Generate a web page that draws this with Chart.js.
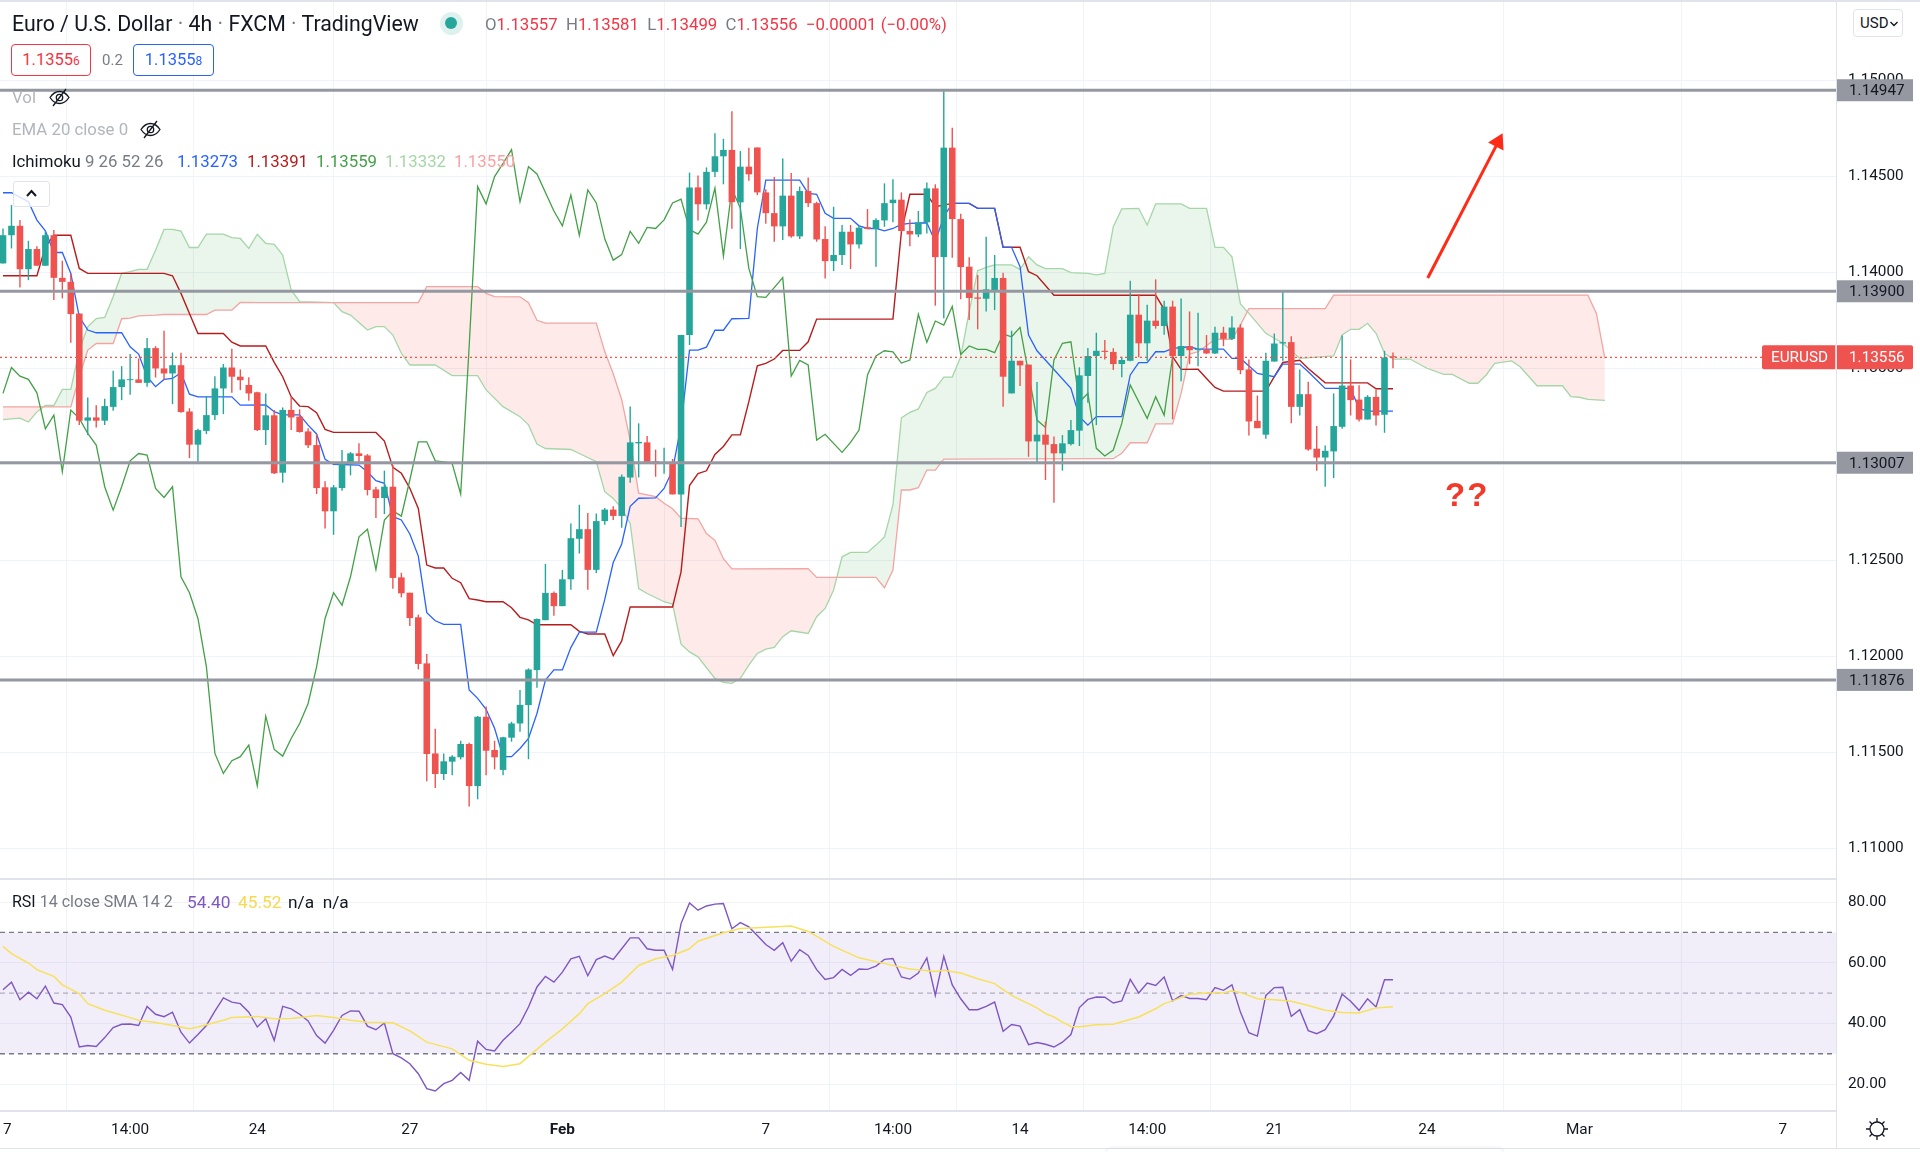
<!DOCTYPE html>
<html>
<head>
<meta charset="utf-8">
<title>EURUSD 4h</title>
<script src="https://cdn.jsdelivr.net/npm/chart.js@4"></script>
<style>
  html, body { margin: 0; padding: 0; background: #fff; }
  #wrap { position: relative; width: 1920px; height: 1152px; overflow: hidden; font-family: Roboto, sans-serif; color: #131722; }
  #wrap canvas { position: absolute; left: 0; top: 0; }
  .t { position: absolute; white-space: nowrap; line-height: 20px; font-size: 16.8px; }
  .rule { position: absolute; background: #E0E3EB; }
  .box { position: absolute; box-sizing: border-box; border-radius: 4px; background: #fff; font-size: 16.5px; text-align: center; line-height: 29px; }
  .box small { font-size: 12px; }
  svg { position: absolute; }
</style>
</head>
<body>
<div id="wrap">
  <canvas id="chart" width="1920" height="1152"></canvas>

  <div class="rule" style="left:0;top:0;width:1920px;height:2px"></div>
  <div class="rule" style="left:1836px;top:0;width:1px;height:1148px"></div>
  <div class="rule" style="left:0;top:878px;width:1836px;height:2px"></div>
  <div class="rule" style="left:0;top:1110px;width:1836px;height:2px"></div>
  <div class="rule" style="left:0;top:1148px;width:1920px;height:1px"></div>
  <div style="position:absolute;left:1107px;top:1149px;width:395px;height:6px;background:#fff;border-radius:5px;box-shadow:0 0 4px #d5d8e0"></div>

  <div class="t" style="left:12px;top:13px;font-size:21.3px;line-height:22px">Euro / U.S. Dollar <span style="color:#787B86">·</span> 4h <span style="color:#787B86">·</span> FXCM <span style="color:#787B86">·</span> TradingView</div>
  <div style="position:absolute;left:440px;top:12px;width:23px;height:23px;border-radius:50%;background:#DFF1EE"></div>
  <div style="position:absolute;left:445px;top:17px;width:12px;height:12px;border-radius:50%;background:#26A69A"></div>
  <div class="t" style="left:485px;top:14px;color:#F23645">
    <span style="color:#787B86">O</span>1.13557 <span style="color:#787B86">&nbsp;H</span>1.13581 <span style="color:#787B86">&nbsp;L</span>1.13499 <span style="color:#787B86">&nbsp;C</span>1.13556 &nbsp;−0.00001 (−0.00%)
  </div>

  <div class="box" style="left:11px;top:44px;width:80px;height:32px;border:1.5px solid #F23645;color:#F23645">1.1355<small>6</small></div>
  <div class="t" style="left:102px;top:50px;color:#787B86;font-size:15px">0.2</div>
  <div class="box" style="left:133px;top:44px;width:81px;height:32px;border:1.5px solid #2962FF;color:#2962FF">1.1355<small>8</small></div>

  <div class="t" style="left:12px;top:87px;color:#B2B5BE">Vol</div>
  <svg style="left:48px;top:86px" width="23" height="23" viewBox="0 0 23 23" fill="none" stroke="#131722" stroke-width="1.3"><path d="M2 11.5C5 7 8 5.5 11.5 5.5S18 7 21 11.5C18 16 15 17.5 11.5 17.5S5 16 2 11.5Z"/><circle cx="11.5" cy="11.5" r="3.2"/><path d="M5 20L18 3"/></svg>
  <div class="t" style="left:12px;top:119px;color:#B2B5BE">EMA 20 close 0</div>
  <svg style="left:139px;top:118px" width="23" height="23" viewBox="0 0 23 23" fill="none" stroke="#131722" stroke-width="1.3"><path d="M2 11.5C5 7 8 5.5 11.5 5.5S18 7 21 11.5C18 16 15 17.5 11.5 17.5S5 16 2 11.5Z"/><circle cx="11.5" cy="11.5" r="3.2"/><path d="M5 20L18 3"/></svg>
  <div class="t" style="left:12px;top:151px">Ichimoku <span style="color:#787B86">9 26 52 26</span></div>
  <div class="t" style="left:177px;top:151px;color:#2962FF">1.13273</div>
  <div class="t" style="left:247px;top:151px;color:#B71C1C">1.13391</div>
  <div class="t" style="left:316px;top:151px;color:#43A047">1.13559</div>
  <div class="t" style="left:385px;top:151px;color:#A5D6A7">1.13332</div>
  <div class="t" style="left:454px;top:151px;color:#FAA1A4">1.13550</div>
  <div style="position:absolute;left:13px;top:181px;width:37px;height:26px;box-sizing:border-box;border:1px solid #E0E3EB;border-radius:3px;background:rgba(255,255,255,.8)"></div>
  <svg style="left:24px;top:188px" width="15" height="11" viewBox="0 0 15 11" fill="none" stroke="#131722" stroke-width="2"><path d="M3 8L7.5 3L12 8"/></svg>

  <div class="t" style="left:1445px;top:477px;font-size:33px;line-height:36px;font-weight:bold;color:#F23A2B;font-family:'Liberation Sans',sans-serif;letter-spacing:2px">??</div>

  <div class="t" style="left:12px;top:892px;font-size:16px">RSI <span style="color:#787B86">14 close SMA 14 2</span></div>
  <div class="t" style="left:187px;top:892px;color:#7E57C2;font-size:17.3px">54.40</div>
  <div class="t" style="left:238px;top:892px;color:#F7D94C;font-size:17.3px">45.52</div>
  <div class="t" style="left:288px;top:892px;font-size:17.3px">n/a &nbsp;n/a</div>

  <div class="box" style="left:1853px;top:9px;width:50px;height:28px;border:1px solid #E0E3EB;line-height:26px;font-size:15px;text-align:left;padding-left:6px">USD</div>
  <svg style="left:1889px;top:20px" width="10" height="8" viewBox="0 0 10 8" fill="none" stroke="#131722" stroke-width="1.4"><path d="M1.5 2L5 5.5L8.5 2"/></svg>
  <svg style="left:1865px;top:1117px" width="24" height="24" viewBox="0 0 24 24" fill="none" stroke="#131722" stroke-width="1.3"><circle cx="12" cy="12" r="7"/><path d="M12 1V5M12 19V23M1 12H5M19 12H23M4.5 4.5L7 7M17 17L19.5 19.5M4.5 19.5L7 17M17 7L19.5 4.5"/></svg>
</div>

<script>
// time axis: bar index of each label
const timeTicks = [0, 15, 30, 48, 66, 90, 105, 120, 135, 150, 168, 186, 210];
const timeLabels = ['17', '14:00', '24', '27', 'Feb', '7', '14:00', '14', '14:00', '21', '24', 'Mar', '7'];
const priceTicks = [1.11, 1.115, 1.12, 1.125, 1.13, 1.135, 1.14, 1.145, 1.15];
const rsiTicks = [20, 40, 60, 80];

const opens = [
  1.14045, 1.14192, 1.14241, 1.14015, 1.14120, 1.14033, 1.14192, 1.13970, 1.13949, 1.13784,
  1.13226, 1.13243, 1.13226, 1.13298, 1.13401, 1.13437, 1.13441, 1.13423, 1.13604, 1.13498,
  1.13472, 1.13515, 1.13274, 1.13101, 1.13173, 1.13255, 1.13394, 1.13503, 1.13455, 1.13412,
  1.13374, 1.13177, 1.13254, 1.12955, 1.13282, 1.13247, 1.13170, 1.13099, 1.12879, 1.12754,
  1.12875, 1.13002, 1.13056, 1.13045, 1.12868, 1.12823, 1.12882, 1.12410, 1.12330, 1.12202,
  1.11962, 1.11493, 1.11386, 1.11450, 1.11473, 1.11542, 1.11323, 1.11684, 1.11511, 1.11407,
  1.11575, 1.11649, 1.11745, 1.11927, 1.12187, 1.12329, 1.12260, 1.12400, 1.12611, 1.12661,
  1.12449, 1.12703, 1.12763, 1.12730, 1.12930, 1.13108, 1.13113, 1.13015, 1.13004, 1.13008,
  1.12842, 1.13672, 1.14441, 1.14353, 1.14522, 1.14603, 1.14636, 1.14363, 1.14549, 1.14649,
  1.14415, 1.14307, 1.14238, 1.14398, 1.14186, 1.14422, 1.14359, 1.14172, 1.14057, 1.14089,
  1.14210, 1.14144, 1.14234, 1.14224, 1.14269, 1.14359, 1.14377, 1.14214, 1.14196, 1.14259,
  1.14436, 1.14078, 1.14648, 1.14276, 1.14028, 1.13868, 1.13861, 1.13906, 1.13969, 1.13368,
  1.13538, 1.13518, 1.13118, 1.13153, 1.13104, 1.13056, 1.13104, 1.13174, 1.13459, 1.13563,
  1.13590, 1.13584, 1.13521, 1.13538, 1.13778, 1.13629, 1.13747, 1.13719, 1.13820, 1.13563,
  1.13614, 1.13595, 1.13597, 1.13576, 1.13684, 1.13652, 1.13711, 1.13493, 1.13225, 1.13153,
  1.13534, 1.13628, 1.13635, 1.13298, 1.13364, 1.13080, 1.13034, 1.13066, 1.13194, 1.13409,
  1.13336, 1.13232, 1.13350, 1.13257, 1.13557
];
const closes = [
  1.14192, 1.14241, 1.14015, 1.14120, 1.14033, 1.14192, 1.13970, 1.13949, 1.13781, 1.13226,
  1.13243, 1.13226, 1.13302, 1.13401, 1.13441, 1.13441, 1.13423, 1.13604, 1.13498, 1.13472,
  1.13515, 1.13271, 1.13101, 1.13177, 1.13255, 1.13394, 1.13503, 1.13455, 1.13437, 1.13368,
  1.13177, 1.13254, 1.12952, 1.13282, 1.13243, 1.13167, 1.13098, 1.12875, 1.12754, 1.12879,
  1.13002, 1.13056, 1.13042, 1.12865, 1.12823, 1.12882, 1.12407, 1.12327, 1.12198, 1.11959,
  1.11490, 1.11386, 1.11452, 1.11476, 1.11542, 1.11323, 1.11684, 1.11507, 1.11473, 1.11577,
  1.11649, 1.11746, 1.11930, 1.12193, 1.12329, 1.12260, 1.12400, 1.12614, 1.12661, 1.12449,
  1.12703, 1.12763, 1.12730, 1.12934, 1.13113, 1.13115, 1.13011, 1.13000, 1.13008, 1.12842,
  1.13672, 1.14441, 1.14353, 1.14522, 1.14603, 1.14636, 1.14364, 1.14549, 1.14509, 1.14415,
  1.14307, 1.14238, 1.14398, 1.14186, 1.14422, 1.14359, 1.14170, 1.14057, 1.14089, 1.14210,
  1.14144, 1.14231, 1.14224, 1.14271, 1.14359, 1.14377, 1.14214, 1.14196, 1.14259, 1.14436,
  1.14078, 1.14648, 1.14276, 1.14026, 1.13865, 1.13861, 1.13910, 1.13969, 1.13455, 1.13538,
  1.13514, 1.13118, 1.13153, 1.13101, 1.13056, 1.13108, 1.13177, 1.13462, 1.13563, 1.13590,
  1.13584, 1.13521, 1.13542, 1.13778, 1.13629, 1.13747, 1.13719, 1.13820, 1.13563, 1.13615,
  1.13593, 1.13599, 1.13576, 1.13684, 1.13652, 1.13711, 1.13489, 1.13222, 1.13187, 1.13538,
  1.13628, 1.13635, 1.13298, 1.13364, 1.13076, 1.13034, 1.13069, 1.13198, 1.13409, 1.13333,
  1.13232, 1.13350, 1.13253, 1.13555, 1.13556
];
const highs = [
  1.14227, 1.14349, 1.14271, 1.14163, 1.14135, 1.14213, 1.14219, 1.14059, 1.13993, 1.13784,
  1.13347, 1.13307, 1.13340, 1.13486, 1.13510, 1.13573, 1.13550, 1.13656, 1.13614, 1.13694,
  1.13581, 1.13580, 1.13291, 1.13184, 1.13354, 1.13458, 1.13521, 1.13600, 1.13493, 1.13452,
  1.13377, 1.13368, 1.13282, 1.13295, 1.13351, 1.13285, 1.13186, 1.13157, 1.12910, 1.12891,
  1.13073, 1.13063, 1.13108, 1.13052, 1.12882, 1.12966, 1.12995, 1.12434, 1.12330, 1.12216,
  1.12011, 1.11622, 1.11493, 1.11483, 1.11559, 1.11549, 1.11688, 1.11737, 1.11559, 1.11580,
  1.11658, 1.11823, 1.11936, 1.12196, 1.12480, 1.12337, 1.12449, 1.12691, 1.12788, 1.12745,
  1.12742, 1.12771, 1.12780, 1.12946, 1.13300, 1.13212, 1.13146, 1.13075, 1.13085, 1.13027,
  1.13672, 1.14518, 1.14503, 1.14545, 1.14723, 1.14694, 1.14838, 1.14630, 1.14648, 1.14649,
  1.14432, 1.14495, 1.14592, 1.14516, 1.14445, 1.14493, 1.14366, 1.14238, 1.14340, 1.14245,
  1.14245, 1.14241, 1.14328, 1.14280, 1.14462, 1.14483, 1.14415, 1.14274, 1.14318, 1.14467,
  1.14457, 1.14953, 1.14752, 1.14304, 1.14077, 1.13985, 1.14184, 1.14089, 1.13997, 1.13695,
  1.13538, 1.13518, 1.13427, 1.13221, 1.13143, 1.13151, 1.13229, 1.13504, 1.13604, 1.13684,
  1.13646, 1.13603, 1.13559, 1.13955, 1.13886, 1.13830, 1.13962, 1.13851, 1.13851, 1.13863,
  1.13795, 1.13788, 1.13672, 1.13715, 1.13715, 1.13770, 1.13729, 1.13545, 1.13357, 1.13580,
  1.13680, 1.13906, 1.13666, 1.13493, 1.13429, 1.13198, 1.13097, 1.13368, 1.13670, 1.13545,
  1.13411, 1.13359, 1.13389, 1.13590, 1.13581
];
const lows = [
  1.14045, 1.14123, 1.13920, 1.13958, 1.14033, 1.14033, 1.13854, 1.13863, 1.13632, 1.13203,
  1.13151, 1.13191, 1.13203, 1.13278, 1.13333, 1.13361, 1.13423, 1.13403, 1.13451, 1.13441,
  1.13312, 1.13267, 1.13031, 1.13012, 1.13156, 1.13229, 1.13260, 1.13371, 1.13385, 1.13330,
  1.13172, 1.13099, 1.12948, 1.12903, 1.13177, 1.13164, 1.13084, 1.12844, 1.12664, 1.12632,
  1.12861, 1.12941, 1.13004, 1.12837, 1.12719, 1.12740, 1.12351, 1.12306, 1.12157, 1.11931,
  1.11348, 1.11313, 1.11355, 1.11379, 1.11462, 1.11216, 1.11254, 1.11379, 1.11410, 1.11379,
  1.11554, 1.11606, 1.11463, 1.11835, 1.12187, 1.12210, 1.12260, 1.12345, 1.12534, 1.12345,
  1.12433, 1.12684, 1.12709, 1.12668, 1.12903, 1.12930, 1.13011, 1.12934, 1.12950, 1.12842,
  1.12672, 1.13620, 1.14268, 1.14326, 1.14495, 1.14457, 1.14225, 1.14120, 1.14476, 1.14401,
  1.14252, 1.14158, 1.14167, 1.14179, 1.14172, 1.14339, 1.14158, 1.13967, 1.14005, 1.14037,
  1.14016, 1.14123, 1.14224, 1.14028, 1.14236, 1.14259, 1.14210, 1.14134, 1.14182, 1.14201,
  1.13825, 1.13759, 1.14075, 1.13859, 1.13750, 1.13702, 1.13794, 1.13802, 1.13299, 1.13368,
  1.13406, 1.13038, 1.13007, 1.12917, 1.12799, 1.12966, 1.13097, 1.13094, 1.13320, 1.13203,
  1.13545, 1.13490, 1.13452, 1.13535, 1.13556, 1.13538, 1.13705, 1.13674, 1.13233, 1.13431,
  1.13520, 1.13510, 1.13573, 1.13573, 1.13614, 1.13646, 1.13468, 1.13149, 1.13187, 1.13132,
  1.13534, 1.13538, 1.13212, 1.13253, 1.13069, 1.12965, 1.12882, 1.12927, 1.13184, 1.13253,
  1.13222, 1.13232, 1.13201, 1.13163, 1.13499
];

// ichimoku lines, read at their corners
const tenkanX = [0, 1, 3, 4, 5, 6, 7, 8, 9, 10, 11, 14, 15, 16, 17, 18, 19, 20, 21, 22, 23, 27, 28, 31, 32, 33, 35, 36, 37, 38, 39, 42, 43, 44, 45, 46, 47, 48, 49, 50, 51, 52, 54, 55, 56, 57, 58, 59, 60, 61, 62, 63, 64, 65, 66, 67, 68, 70, 71, 72, 73, 74, 75, 77, 78, 79, 80, 81, 82, 83, 84, 85, 86, 88, 89, 90, 94, 95, 96, 97, 98, 100, 101, 102, 103, 104, 105, 106, 107, 109, 110, 111, 112, 114, 115, 117, 118, 119, 120, 121, 122, 126, 127, 128, 129, 132, 133, 134, 135, 136, 137, 138, 140, 141, 144, 145, 146, 148, 150, 151, 153, 154, 156, 159, 160, 161, 164];
const tenkanY = [1.14413, 1.14413, 1.14366, 1.14271, 1.14215, 1.14102, 1.14102, 1.13993, 1.13767, 1.13698, 1.13684, 1.13684, 1.13611, 1.13573, 1.13455, 1.13403, 1.13441, 1.13446, 1.13476, 1.13364, 1.13350, 1.13350, 1.13307, 1.13308, 1.13273, 1.13256, 1.13256, 1.13203, 1.13157, 1.13025, 1.12999, 1.12995, 1.12960, 1.12914, 1.12900, 1.12726, 1.12709, 1.12636, 1.12521, 1.12226, 1.12184, 1.12165, 1.12165, 1.11823, 1.11780, 1.11723, 1.11624, 1.11476, 1.11476, 1.11519, 1.11571, 1.11701, 1.11875, 1.11928, 1.11928, 1.12044, 1.12125, 1.12125, 1.12295, 1.12487, 1.12584, 1.12780, 1.12822, 1.12824, 1.12873, 1.12969, 1.13200, 1.13593, 1.13593, 1.13609, 1.13697, 1.13697, 1.13757, 1.13759, 1.14227, 1.14479, 1.14479, 1.14410, 1.14405, 1.14306, 1.14280, 1.14280, 1.14241, 1.14227, 1.14227, 1.14215, 1.14227, 1.14248, 1.14254, 1.14257, 1.14158, 1.14288, 1.14358, 1.14358, 1.14332, 1.14332, 1.14129, 1.14129, 1.14028, 1.13672, 1.13590, 1.13394, 1.13247, 1.13203, 1.13247, 1.13247, 1.13464, 1.13528, 1.13528, 1.13585, 1.13585, 1.13603, 1.13611, 1.13599, 1.13599, 1.13550, 1.13550, 1.13472, 1.13455, 1.13521, 1.13521, 1.13481, 1.13394, 1.13394, 1.13290, 1.13276, 1.13276];

const kijunX = [0, 4, 5, 6, 8, 9, 10, 19, 20, 21, 22, 23, 26, 27, 28, 31, 32, 33, 34, 35, 36, 37, 38, 39, 44, 45, 46, 47, 48, 49, 50, 51, 52, 53, 54, 55, 56, 57, 59, 60, 61, 62, 63, 67, 68, 69, 71, 72, 73, 74, 79, 80, 81, 82, 83, 84, 85, 86, 87, 88, 89, 90, 91, 92, 94, 95, 96, 105, 106, 107, 109, 110, 111, 112, 114, 115, 117, 118, 120, 121, 122, 124, 136, 137, 138, 139, 141, 142, 143, 144, 149, 150, 151, 153, 154, 156, 161, 162, 164];
const kijunY = [1.13981, 1.13981, 1.14132, 1.14192, 1.14192, 1.14019, 1.13993, 1.13993, 1.13981, 1.13889, 1.13784, 1.13680, 1.13680, 1.13635, 1.13615, 1.13615, 1.13530, 1.13455, 1.13351, 1.13302, 1.13299, 1.13268, 1.13181, 1.13165, 1.13165, 1.13120, 1.12983, 1.12952, 1.12874, 1.12769, 1.12474, 1.12459, 1.12459, 1.12405, 1.12382, 1.12299, 1.12292, 1.12283, 1.12283, 1.12252, 1.12202, 1.12189, 1.12163, 1.12163, 1.12129, 1.12115, 1.12115, 1.12002, 1.12079, 1.12256, 1.12256, 1.12439, 1.12888, 1.12950, 1.12965, 1.13050, 1.13092, 1.13152, 1.13152, 1.13325, 1.13512, 1.13524, 1.13547, 1.13592, 1.13592, 1.13637, 1.13755, 1.13755, 1.14210, 1.14405, 1.14405, 1.14340, 1.14349, 1.14358, 1.14358, 1.14332, 1.14332, 1.14129, 1.14129, 1.14002, 1.13981, 1.13879, 1.13879, 1.13806, 1.13559, 1.13493, 1.13494, 1.13446, 1.13399, 1.13380, 1.13380, 1.13455, 1.13529, 1.13541, 1.13498, 1.13423, 1.13423, 1.13392, 1.13392];

const chikou = [
  1.13368, 1.13503, 1.13458, 1.13441, 1.13371, 1.13184, 1.13255, 1.12960, 1.13281, 1.13238,
  1.13160, 1.13099, 1.12882, 1.12760, 1.12882, 1.13017, 1.13055, 1.13047, 1.12873, 1.12826,
  1.12882, 1.12413, 1.12330, 1.12196, 1.11944, 1.11493, 1.11389, 1.11455, 1.11476, 1.11536,
  1.11325, 1.11687, 1.11514, 1.11479, 1.11571, 1.11649, 1.11753, 1.11944, 1.12196, 1.12330,
  1.12265, 1.12413, 1.12621, 1.12661, 1.12451, 1.12708, 1.12757, 1.12729, 1.12917, 1.13116,
  1.13116, 1.13017, 1.13012, 1.13003, 1.12844, 1.13612, 1.14445, 1.14355, 1.14497, 1.14566,
  1.14638, 1.14366, 1.14549, 1.14511, 1.14414, 1.14318, 1.14241, 1.14401, 1.14191, 1.14428,
  1.14360, 1.14173, 1.14062, 1.14091, 1.14212, 1.14150, 1.14233, 1.14227, 1.14272, 1.14360,
  1.14380, 1.14222, 1.14198, 1.14260, 1.14437, 1.14083, 1.14434, 1.14332, 1.14019, 1.13872,
  1.13868, 1.13919, 1.13971, 1.13458, 1.13540, 1.13516, 1.13125, 1.13155, 1.13108, 1.13061,
  1.13113, 1.13177, 1.13464, 1.13563, 1.13590, 1.13585, 1.13526, 1.13542, 1.13780, 1.13634,
  1.13745, 1.13724, 1.13821, 1.13571, 1.13615, 1.13597, 1.13597, 1.13580, 1.13677, 1.13663,
  1.13712, 1.13472, 1.13229, 1.13191, 1.13542, 1.13629, 1.13637, 1.13323, 1.13368, 1.13082,
  1.13042, 1.13073, 1.13212, 1.13412, 1.13325, 1.13238, 1.13351, 1.13255, 1.13559
];

const spanAX = [0, 2, 3, 4, 5, 6, 7, 8, 9, 10, 11, 12, 13, 14, 15, 16, 17, 18, 19, 20, 21, 22, 23, 24, 26, 27, 28, 29, 30, 31, 32, 33, 34, 35, 39, 40, 41, 42, 43, 44, 45, 46, 47, 48, 51, 53, 56, 57, 59, 61, 62, 63, 64, 67, 68, 70, 71, 72, 73, 74, 75, 76, 78, 79, 80, 81, 82, 84, 85, 86, 87, 88, 89, 90, 91, 92, 93, 95, 96, 97, 98, 99, 100, 102, 103, 104, 105, 106, 107, 108, 109, 110, 111, 112, 113, 114, 115, 116, 117, 119, 120, 121, 122, 123, 125, 126, 128, 129, 130, 131, 132, 134, 135, 136, 139, 140, 142, 143, 144, 145, 146, 147, 149, 151, 153, 157, 158, 159, 160, 161, 162, 163, 164, 166, 168, 170, 171, 173, 174, 175, 176, 178, 179, 181, 184, 185, 186, 187, 189];
const spanAY = [1.13232, 1.13239, 1.13219, 1.13272, 1.13305, 1.13305, 1.13389, 1.13389, 1.13594, 1.13715, 1.13758, 1.13764, 1.13871, 1.13993, 1.14002, 1.14014, 1.14014, 1.14114, 1.14222, 1.14222, 1.14213, 1.14128, 1.14128, 1.14198, 1.14198, 1.14179, 1.14175, 1.14123, 1.14197, 1.14150, 1.14144, 1.14089, 1.13907, 1.13846, 1.13841, 1.13794, 1.13776, 1.13737, 1.13698, 1.13716, 1.13716, 1.13672, 1.13577, 1.13516, 1.13516, 1.13461, 1.13461, 1.13386, 1.13299, 1.13247, 1.13204, 1.13104, 1.13081, 1.13076, 1.13055, 1.13012, 1.12856, 1.12821, 1.12769, 1.12691, 1.12352, 1.12326, 1.12283, 1.12271, 1.12062, 1.12022, 1.11996, 1.11884, 1.11863, 1.11858, 1.11884, 1.11953, 1.12014, 1.12036, 1.12045, 1.12101, 1.12132, 1.12118, 1.12205, 1.12248, 1.12344, 1.12517, 1.12540, 1.12540, 1.12578, 1.12621, 1.12787, 1.13241, 1.13269, 1.13287, 1.13373, 1.13394, 1.13453, 1.13453, 1.13559, 1.13794, 1.14007, 1.14024, 1.14037, 1.14037, 1.14014, 1.14080, 1.14037, 1.14018, 1.14018, 1.13997, 1.13993, 1.13985, 1.13993, 1.14236, 1.14329, 1.14332, 1.14245, 1.14355, 1.14355, 1.14332, 1.14332, 1.14129, 1.14129, 1.14080, 1.13834, 1.13785, 1.13681, 1.13629, 1.13551, 1.13563, 1.13672, 1.13702, 1.13702, 1.13733, 1.13681, 1.13577, 1.13547, 1.13547, 1.13499, 1.13467, 1.13467, 1.13421, 1.13421, 1.13464, 1.13525, 1.13537, 1.13507, 1.13408, 1.13408, 1.13351, 1.13348, 1.13337, 1.13332];

const spanBX = [0, 8, 9, 10, 11, 13, 14, 15, 16, 18, 19, 24, 25, 27, 28, 30, 49, 50, 56, 57, 58, 61, 62, 63, 64, 70, 71, 72, 73, 74, 75, 77, 78, 79, 80, 82, 83, 84, 85, 86, 95, 96, 103, 104, 105, 106, 107, 108, 109, 110, 111, 131, 132, 133, 135, 136, 138, 139, 140, 141, 143, 145, 146, 147, 156, 157, 187, 188, 189];
const spanBY = [1.13298, 1.13298, 1.13455, 1.13594, 1.13628, 1.13628, 1.13757, 1.13760, 1.13772, 1.13776, 1.13779, 1.13779, 1.13802, 1.13802, 1.13842, 1.13841, 1.13841, 1.13924, 1.13924, 1.13889, 1.13872, 1.13871, 1.13840, 1.13749, 1.13734, 1.13734, 1.13586, 1.13470, 1.13335, 1.13123, 1.12848, 1.12830, 1.12796, 1.12767, 1.12718, 1.12715, 1.12638, 1.12603, 1.12507, 1.12454, 1.12456, 1.12410, 1.12410, 1.12356, 1.12448, 1.12865, 1.12865, 1.12877, 1.12969, 1.12969, 1.13026, 1.13028, 1.13056, 1.13111, 1.13111, 1.13209, 1.13209, 1.13368, 1.13573, 1.13585, 1.13649, 1.13649, 1.13724, 1.13810, 1.13810, 1.13880, 1.13880, 1.13785, 1.13550];

// support / resistance drawn on the chart
const levels = [1.14947, 1.139, 1.13007, 1.11876];
const lastPrice = 1.13556;
const arrowX = [168.1, 176.4];
const arrowY = [1.13969, 1.14677];

const rsi = [
  51.1, 53.6, 47.8, 50.3, 48.1, 52.3, 46.7, 46.2, 42.1, 32.2,
  32.7, 32.4, 35.3, 38.6, 39.7, 39.8, 39.3, 45.6, 43.0, 42.2,
  43.7, 37.1, 33.5, 36.3, 39.3, 44.0, 48.4, 47.0, 46.5, 43.7,
  38.8, 41.5, 34.4, 45.6, 44.8, 43.0, 40.8, 36.0, 33.5, 37.7,
  42.6, 44.1, 44.0, 39.1, 37.9, 40.1, 30.0, 28.6, 26.7, 23.4,
  18.5, 17.7, 20.1, 21.2, 23.8, 21.2, 34.1, 31.4, 30.9, 34.4,
  37.1, 39.9, 45.4, 52.0, 55.5, 53.6, 56.9, 61.3, 62.1, 55.7,
  61.0, 62.2, 61.1, 64.6, 68.2, 68.2, 64.6, 64.1, 64.1, 57.8,
  72.9, 79.7, 77.3, 78.7, 79.3, 79.5, 71.2, 73.2, 71.8, 69.0,
  66.0, 64.1, 66.6, 60.5, 64.3, 62.4, 57.7, 54.5, 55.1, 57.8,
  55.8, 57.9, 57.8, 58.9, 61.1, 61.4, 55.3, 54.6, 56.6, 61.6,
  49.2, 62.1, 52.7, 48.1, 44.5, 44.5, 45.6, 47.0, 37.4, 39.6,
  39.1, 33.0, 33.7, 33.1, 32.2, 33.8, 36.3, 45.2, 47.9, 48.7,
  48.6, 46.7, 47.4, 54.5, 50.0, 53.3, 52.5, 55.3, 47.4, 49.2,
  48.2, 48.2, 47.8, 51.8, 50.9, 52.7, 43.7, 36.9, 35.8, 49.2,
  51.8, 51.9, 42.3, 44.5, 37.6, 36.6, 37.9, 42.4, 49.6, 47.3,
  44.3, 48.1, 45.4, 54.4, 54.4
];
const rsiSmaX = [0, 1, 3, 4, 6, 7, 9, 10, 12, 15, 16, 18, 20, 22, 23, 26, 27, 30, 32, 34, 37, 39, 41, 43, 46, 48, 50, 53, 55, 57, 59, 61, 62, 64, 66, 68, 69, 71, 73, 75, 77, 79, 81, 82, 85, 87, 89, 93, 95, 98, 101, 104, 107, 110, 111, 113, 115, 117, 118, 119, 120, 122, 123, 124, 125, 126, 127, 129, 131, 134, 136, 137, 138, 140, 142, 144, 145, 146, 148, 150, 152, 154, 156, 158, 160, 162, 164];
const rsiSmaY = [65.4, 63.0, 59.9, 57.7, 55.5, 52.7, 49.8, 46.5, 44.3, 41.9, 41.0, 40.3, 39.3, 38.2, 38.8, 41.0, 41.9, 42.3, 41.5, 41.6, 42.6, 41.9, 41.0, 40.4, 40.2, 37.5, 33.8, 31.6, 27.8, 26.5, 25.8, 26.7, 29.1, 33.8, 38.2, 43.2, 46.5, 49.8, 53.6, 59.1, 61.3, 62.4, 64.6, 67.1, 69.9, 71.3, 71.5, 72.1, 70.3, 65.4, 61.6, 59.7, 57.9, 57.1, 57.5, 56.6, 54.7, 53.1, 51.1, 49.2, 47.8, 45.1, 43.2, 42.1, 40.4, 39.0, 38.9, 39.5, 39.7, 42.1, 44.8, 46.5, 47.4, 49.6, 50.0, 50.1, 50.7, 50.2, 48.1, 47.8, 47.3, 45.9, 44.3, 43.6, 43.4, 45.1, 45.5];
const rsiBand = [70, 30];
const rsiMid = 50;

const xMin = -0.354;
const xMax = 216.27;
const GREEN = '#26A69A';
const RED = '#EF5350';
const TICK_FONT = { family: 'Roboto, sans-serif', size: 15.3 };

const pts = (xs, ys) => xs.map((x, i) => ({ x: x, y: ys[i] }));
const hline = (v) => [{ x: xMin, y: v }, { x: xMax, y: v }];
const candleColors = closes.map((c, i) => (c >= opens[i] ? GREEN : RED));

function thinLine(data, color, width, order, extra) {
    return Object.assign({
        type: 'line',
        data: data,
        borderColor: color,
        borderWidth: width,
        pointRadius: 0,
        tension: 0,
        fill: false,
        order: order,
        yAxisID: 'y'
    }, extra || {});
}

const datasets = [
    // cloud is index 0 and 1, the fill targets the second one
    thinLine(pts(spanAX, spanAY), '#A5D6A7', 1.3, 9, {
        fill: { target: 1, above: 'rgba(67, 160, 71, 0.11)', below: 'rgba(244, 67, 54, 0.11)' }
    }),
    thinLine(pts(spanBX, spanBY), '#F2A5A2', 1.3, 8),
    thinLine(pts(tenkanX, tenkanY), '#2962FF', 1.3, 5),
    thinLine(pts(kijunX, kijunY), '#B71C1C', 1.4, 5),
    thinLine(chikou.map((v, i) => ({ x: i, y: v })), '#43A047', 1.3, 4),
    {
        type: 'bar',
        data: lows.map((v, i) => ({ x: i, y: [v, highs[i]] })),
        backgroundColor: candleColors,
        barPercentage: 1,
        maxBarThickness: 1.4,
        grouped: false,
        order: 3,
        yAxisID: 'y'
    },
    {
        type: 'bar',
        data: opens.map((v, i) => ({ x: i, y: [v, closes[i]] })),
        backgroundColor: candleColors,
        barPercentage: 1,
        maxBarThickness: 6.6,
        minBarLength: 1,
        grouped: false,
        order: 2,
        yAxisID: 'y'
    },
    thinLine(hline(lastPrice), RED, 1.2, 1, { borderDash: [2, 3] })
];

levels.forEach(v => datasets.push(thinLine(hline(v), '#9598A1', 3, 0)));

datasets.push(thinLine(pts(arrowX, arrowY), '#FF2B17', 3, 0, {
    pointRadius: [0, 10],
    pointStyle: 'triangle',
    pointRotation: 27,
    pointBackgroundColor: '#FF2B17',
    pointBorderWidth: 0
}));

// rsi pane
const rsiBandIndex = datasets.length;
datasets.push(thinLine(hline(rsiBand[0]), '#787B86', 1.4, 12, {
    yAxisID: 'yRsi',
    borderDash: [5, 4],
    fill: { target: rsiBandIndex + 1, above: 'rgba(126, 87, 194, 0.1)', below: 'rgba(126, 87, 194, 0.1)' }
}));
datasets.push(thinLine(hline(rsiBand[1]), '#787B86', 1.4, 12, { yAxisID: 'yRsi', borderDash: [5, 4] }));
datasets.push(thinLine(hline(rsiMid), 'rgba(120, 123, 134, 0.55)', 1.2, 12, { yAxisID: 'yRsi', borderDash: [5, 4] }));
datasets.push(thinLine(rsi.map((v, i) => ({ x: i, y: v })), '#7E57C2', 1.4, 11, { yAxisID: 'yRsi' }));
datasets.push(thinLine(pts(rsiSmaX, rsiSmaY), '#F7E15A', 1.5, 10, { yAxisID: 'yRsi' }));

// grey and red price tags on the right axis
const priceTags = {
    id: 'priceTags',
    afterDraw(chart) {
        const ctx = chart.ctx;
        const y = chart.scales.y;
        const left = chart.chartArea.right;
        ctx.save();
        ctx.font = TICK_FONT.size + 'px ' + TICK_FONT.family;
        ctx.textBaseline = 'middle';
        levels.forEach(v => {
            const py = y.getPixelForValue(v);
            ctx.fillStyle = '#9598A1';
            ctx.fillRect(left, py - 11, 77, 22);
            ctx.fillStyle = '#131722';
            ctx.fillText(v.toFixed(5), left + 13, py + 1);
        });
        const py = y.getPixelForValue(lastPrice);
        ctx.fillStyle = RED;
        ctx.beginPath();
        ctx.roundRect(left - 74, py - 12, 151, 24, 2);
        ctx.fill();
        ctx.fillStyle = 'rgba(255, 255, 255, 0.7)';
        ctx.fillRect(left - 1, py - 12, 1, 24);
        ctx.fillStyle = '#fff';
        ctx.fillText('EURUSD', left - 65, py + 1);
        ctx.fillText(lastPrice.toFixed(5), left + 13, py + 1);
        ctx.restore();
    }
};

function fixBox(width, height) {
    return function (scale) {
        scale.paddingLeft = 0;
        scale.paddingRight = 0;
        scale.paddingTop = 0;
        scale.paddingBottom = 0;
        if (width) scale.width = width;
        if (height) scale.height = height;
    };
}

new Chart(document.getElementById('chart').getContext('2d'), {
    data: { datasets: datasets },
    plugins: [priceTags],
    options: {
        responsive: false,
        animation: false,
        devicePixelRatio: 1,
        // the arrow head must not push the plot area in
        layout: { autoPadding: false, padding: { left: 0, right: 0, top: 0, bottom: 4 } },
        plugins: {
            legend: { display: false },
            tooltip: { enabled: false }
        },
        scales: {
            x: {
                type: 'linear',
                min: xMin,
                max: xMax,
                offset: false,
                afterFit: fixBox(0, 37),
                afterBuildTicks: (scale) => { scale.ticks = timeTicks.map(v => ({ value: v })); },
                grid: { color: '#F0F3FA', lineWidth: 1, drawTicks: false },
                border: { display: false },
                ticks: {
                    autoSkip: false,
                    maxRotation: 0,
                    padding: 10,
                    color: '#131722',
                    font: (ctx) => Object.assign({}, TICK_FONT, { weight: timeLabels[ctx.index] === 'Feb' ? 'bold' : 'normal' }),
                    callback: (value, i) => timeLabels[i]
                }
            },
            y: {
                type: 'linear',
                position: 'right',
                stack: 'panes',
                stackWeight: 879,
                min: 1.10839,
                max: 1.15417,
                afterFit: fixBox(84, 0),
                afterBuildTicks: (scale) => { scale.ticks = priceTicks.map(v => ({ value: v })); },
                grid: { color: '#F0F3FA', lineWidth: 1, drawTicks: false },
                border: { display: false },
                ticks: { padding: 12, color: '#131722', font: TICK_FONT, callback: (v) => v.toFixed(5) }
            },
            yRsi: {
                type: 'linear',
                position: 'right',
                stack: 'panes',
                stackWeight: 232,
                min: 11.1,
                max: 87.6,
                afterFit: fixBox(84, 0),
                afterBuildTicks: (scale) => { scale.ticks = rsiTicks.map(v => ({ value: v })); },
                grid: { color: '#F0F3FA', lineWidth: 1, drawTicks: false },
                border: { display: false },
                ticks: { padding: 12, color: '#131722', font: TICK_FONT, callback: (v) => v.toFixed(2) }
            }
        }
    }
});
</script>
</body>
</html>
